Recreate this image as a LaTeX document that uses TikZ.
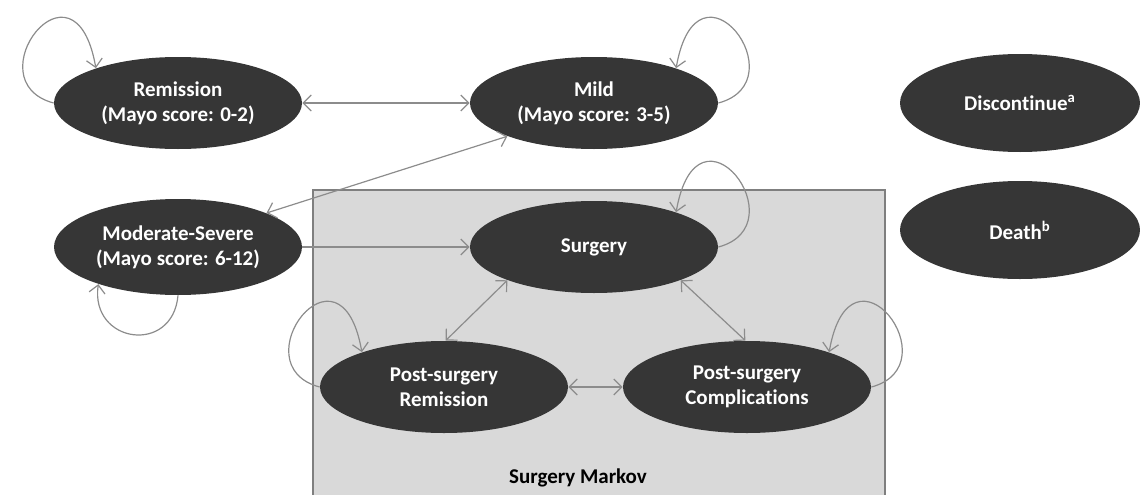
\documentclass[tikz,border=0pt]{standalone}
\usepackage{fontspec}
\setmainfont{Carlito}[Ligatures=NoCommon]
\usetikzlibrary{shapes.geometric, arrows.meta}
\definecolor{statefill}{HTML}{363636}
\definecolor{linegray}{HTML}{8C8C8C}
\definecolor{boxfill}{HTML}{D9D9D9}
\definecolor{boxline}{HTML}{7F7F7F}
\tikzset{
  markovstate/.style={ellipse, fill=statefill, text=white, align=center,
    font=\bfseries\fontsize{10.5}{12.6}\selectfont,
    minimum width=124pt, minimum height=46pt, inner sep=0pt},
  trans/.style={draw=linegray, line width=0.6pt},
}
\begin{document}
\begin{tikzpicture}[x=0.5pt, y=0.5pt, >={Straight Barb[length=4pt,width=8pt]}]
    \useasboundingbox (0,0) rectangle (1140,494);
    % surgery sub-model
    \filldraw[fill=boxfill, draw=boxline, line width=0.8pt] (313,-10) rectangle (885,304);
    \node (markovlabel) [font=\bfseries\fontsize{10.5}{12.6}\selectfont] at (578,16) {Surgery Markov};

    \node (remission) [markovstate] at (178,391) {Remission\\(Mayo score: 0-2)};
    \node (mild) [markovstate, right of=remission, node distance=208pt] {Mild\\(Mayo score: 3-5)};
    \node (discontinue) [markovstate, right of=mild, node distance=213pt, minimum width=120pt, minimum height=49pt] {Discontinue\textsuperscript{a}};
    \node (death) [markovstate, below of=discontinue, node distance=63.5pt, minimum width=120pt, minimum height=49pt] {Death\textsuperscript{b}};
    \node (modsev) [markovstate, below of=remission, node distance=72pt, minimum height=48pt] {Moderate-Severe\\(Mayo score: 6-12)};
    \node (surgery) [markovstate, right of=modsev, node distance=208pt] {Surgery};
    \node (psrem) [markovstate, below of=surgery, node distance=70pt, xshift=-75pt] {Post-surgery\\Remission};
    \node (pscomp) [markovstate, right of=psrem, node distance=151.5pt] {Post-surgery\\Complications};

    \draw[trans, <->] (remission.east) -- (mild.west);
    \draw[trans, <->] (mild.201) -- (modsev.21);
    \draw[trans, ->] (modsev.east) -- (surgery.west);
    \draw[trans, <->] (surgery.201) -- (psrem.88);
    \draw[trans, <->] (surgery.339) -- (pscomp.92);
    \draw[trans, <->] (psrem.east) -- (pscomp.west);

    % self loops
    \draw[trans, ->] (remission.west) .. controls +(165:42pt) and +(100:62pt) .. (remission.157);
    \draw[trans, ->] (mild.east) .. controls +(15:42pt) and +(80:62pt) .. (mild.23);
    \draw[trans, ->] (modsev.south) .. controls +(265:30pt) and +(262:30pt) .. (modsev.205);
    \draw[trans, ->] (surgery.east) .. controls +(15:42pt) and +(80:62pt) .. (surgery.23);
    \draw[trans, ->] (psrem.west) .. controls +(165:42pt) and +(100:62pt) .. (psrem.157);
    \draw[trans, ->] (pscomp.east) .. controls +(15:42pt) and +(80:62pt) .. (pscomp.23);
\end{tikzpicture}
\end{document}
